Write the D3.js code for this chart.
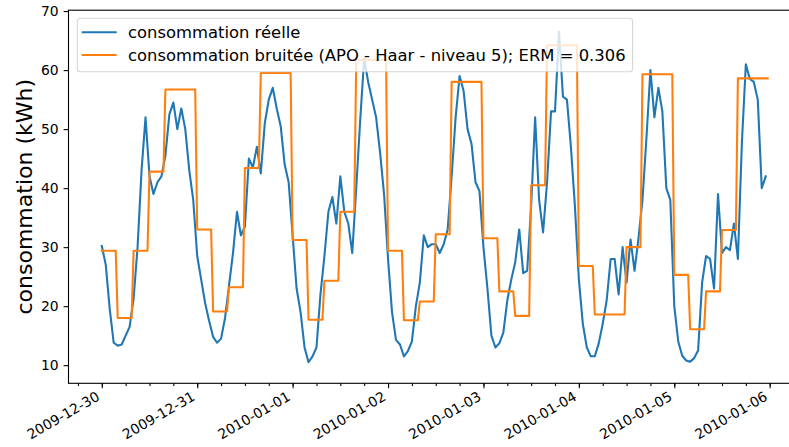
<!DOCTYPE html>
<html>
<head>
  <meta charset="utf-8" />
  <script src="https://cdn.jsdelivr.net/npm/d3@7"></script>
  <style>
    body { margin: 0; background: #fff; }
    text { font-family: "DejaVu Sans", sans-serif; fill: #000; }
    .axis path.domain { display: none; }
    .axis line { stroke: #000; stroke-width: 1.1px; }
    .axis text { font-size: 13.9px; }
  </style>
</head>
<body>
  <svg id="chart" width="789" height="447"></svg>
  <script>
  // hourly values, starting 2009-12-30 00:00
  var reelle = [
    30.2, 27, 19.5, 13.8, 13.3, 13.5, 15, 16.5, 21.3, 30, 43, 52, 42, 39, 41, 42, 45.5, 52.5, 54.5, 50, 53.5, 50, 43, 38,
    28.5, 24.5, 20.5, 17.5, 14.8, 13.8, 14.5, 18, 23.5, 29, 36, 32, 33.5, 45, 43.5, 47, 42.5, 51, 55, 57, 53.5, 50.5, 44, 41,
    32, 23, 19, 13, 10.5, 11.5, 13, 22, 28.5, 36, 38.5, 34, 42, 36, 34, 29, 40, 51.5, 62, 58, 55, 52, 46, 39,
    28, 19, 14.3, 13.5, 11.5, 12.4, 14, 20, 24, 32, 30, 30.5, 30.5, 29, 30.5, 33, 42, 52, 59, 56.5, 50, 47.5, 41, 39.5,
    30, 23, 15, 13, 13.7, 15.5, 21, 24.5, 27.5, 33, 25.6, 26, 37, 52, 38, 32.5, 41, 53, 53, 66.5, 55.5, 55, 47, 37,
    24.5, 17, 13, 11.5, 11.5, 13.7, 17, 21, 28, 28, 22, 30, 24, 31.3, 26, 31.5, 38, 48.5, 60, 52, 57, 53, 40, 38,
    20, 14, 11.6, 10.8, 10.6, 11.2, 12.5, 24, 28.5, 28, 23, 39, 29, 30, 29.5, 34, 28, 47.6, 61, 58.5, 58, 55, 40, 42
  ]
  // one value per 4 hour block
  var bruitee = [
    29.4, 18.0, 29.4, 42.8, 56.7, 56.7,
    33.0, 19.1, 23.2, 43.4, 59.5, 59.5,
    31.2, 17.7, 24.3, 36.0, 61.7, 61.7,
    29.4, 17.6, 20.8, 32.2, 58.0, 58.0,
    31.5, 22.5, 18.35, 40.5, 64.2, 64.2,
    26.8, 18.6, 18.6, 30.0, 59.3, 59.3,
    25.3, 16.1, 22.5, 32.9, 58.6, 58.6
  ]
  var yTicks = [10, 20, 30, 40, 50, 60, 70]
  var dayTicks = ['2009-12-30', '2009-12-31', '2010-01-01', '2010-01-02',
                  '2010-01-03', '2010-01-04', '2010-01-05', '2010-01-06']
  var labels = ['consommation réelle',
                'consommation bruitée (APO - Haar - niveau 5); ERM = 0.306']

  var HOUR = 3600e3
  var t0 = Date.UTC(2009, 11, 30)
  var svg = d3.select('#chart')

  var x = d3.scaleUtc()
            .domain([new Date(t0 - 8.375 * HOUR), new Date(t0 + 175.875 * HOUR)])
            .range([68.5, 801])
  var y = d3.scaleLinear().domain([6.93, 70.15]).range([383.3, 10.2])

  var blueData = reelle.map((v, i) => ({t: new Date(t0 + i * HOUR), v}))
  var orangeData = []
  bruitee.forEach((v, k) => {
    orangeData.push({t: new Date(t0 + k * 4 * HOUR), v})
    orangeData.push({t: new Date(t0 + (k * 4 + 3.5) * HOUR), v})
  })

  var line = d3.line().x(d => x(d.t)).y(d => y(d.v))

  svg.append('path').datum(blueData)
     .attr('d', line).attr('fill', 'none')
     .attr('stroke', '#1f77b4').attr('stroke-width', 2.08)
     .attr('stroke-linejoin', 'round').attr('stroke-linecap', 'square')
  svg.append('path').datum(orangeData)
     .attr('d', line).attr('fill', 'none')
     .attr('stroke', '#ff7f0e').attr('stroke-width', 2.08)
     .attr('stroke-linejoin', 'round').attr('stroke-linecap', 'square')

  // axes
  var yAxis = svg.append('g').attr('class', 'axis')
     .attr('transform', 'translate(68.5,0)')
     .call(d3.axisLeft(y).tickValues(yTicks).tickSize(4.9).tickPadding(4.9).tickSizeOuter(0))

  var xAxis = svg.append('g').attr('class', 'axis')
     .attr('transform', 'translate(0,383.3)')
     .call(d3.axisBottom(x)
             .tickValues(dayTicks.map(s => new Date(s + 'T00:00:00Z')))
             .tickFormat(d3.utcFormat('%Y-%m-%d'))
             .tickSize(4.9).tickSizeOuter(0))
  xAxis.selectAll('text')
       .attr('x', 0).attr('y', 0).attr('dy', 0)
       .attr('text-anchor', 'end')
       .attr('transform', 'translate(-1.7,16) rotate(-30)')

  svg.append('g').attr('class', 'axis')
     .attr('transform', 'translate(0,383.3)')
     .call(d3.axisBottom(x).ticks(d3.utcHour.every(6)).tickFormat('').tickSize(2.8).tickSizeOuter(0))

  // frame
  svg.append('rect')
     .attr('x', 68.5).attr('y', 10.2)
     .attr('width', 801 - 68.5).attr('height', 383.3 - 10.2)
     .attr('fill', 'none').attr('stroke', '#000').attr('stroke-width', 1.1)

  svg.append('text')
     .attr('transform', 'translate(31.5,' + ((10.2 + 383.3) / 2) + ') rotate(-90)')
     .attr('text-anchor', 'middle')
     .style('font-size', '22px')
     .text('consommation (kWh)')

  // legend
  var legend = svg.append('g')
  var box = legend.append('rect')
     .attr('x', 77.3).attr('y', 18.3).attr('height', 53.4)
     .attr('rx', 3).attr('ry', 3)
     .attr('fill', '#fff').attr('fill-opacity', 0.8)
     .attr('stroke', '#ccc').attr('stroke-opacity', 0.8).attr('stroke-width', 1.1)
  var colors = ['#1f77b4', '#ff7f0e']
  var maxLen = 0
  labels.forEach((lab, i) => {
    var cy = 32.3 + i * 22.7
    legend.append('line')
          .attr('x1', 81.7).attr('x2', 116.7).attr('y1', cy).attr('y2', cy)
          .attr('stroke', colors[i]).attr('stroke-width', 2.08)
    var t = legend.append('text')
          .attr('x', 128).attr('y', cy).attr('dy', '0.36em')
          .style('font-size', '16.4px')
          .text(lab)
    maxLen = Math.max(maxLen, t.node().getComputedTextLength())
  })
  box.attr('width', 128 + maxLen + 7 - 77.3)
  </script>
</body>
</html>
